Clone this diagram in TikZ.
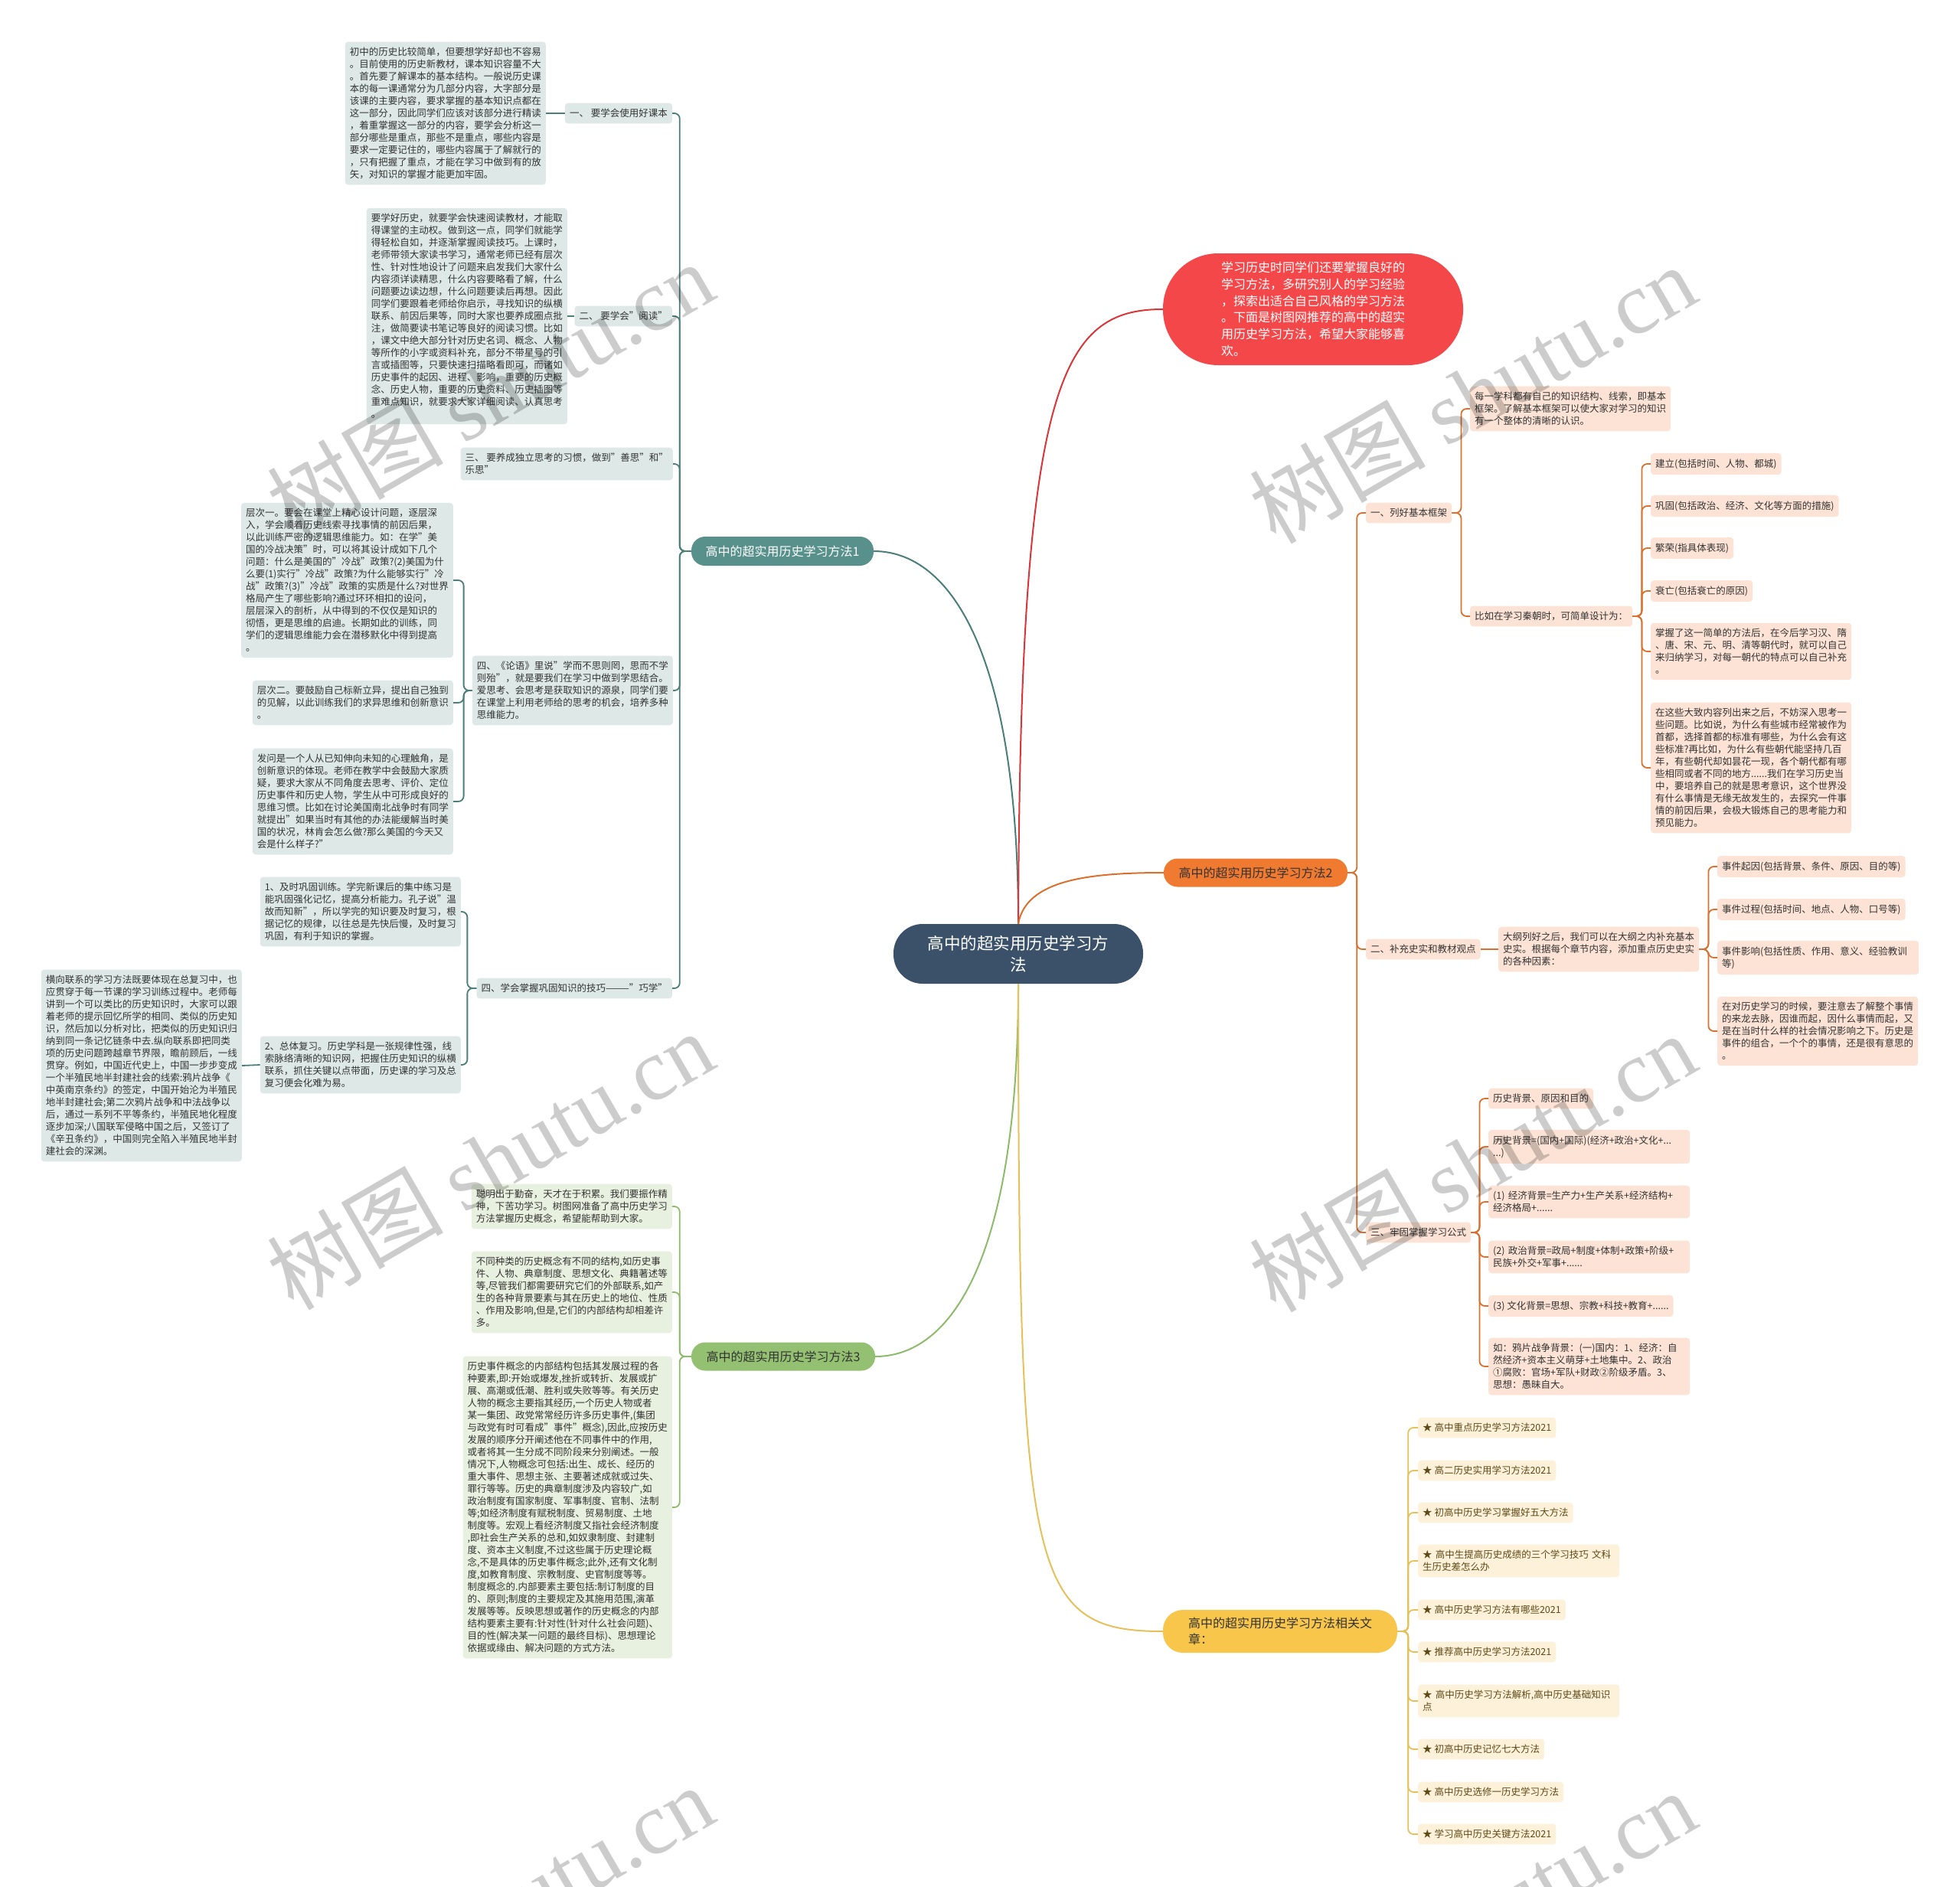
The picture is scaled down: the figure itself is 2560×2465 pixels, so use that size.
\documentclass[tikz,border=0pt]{standalone}
\usepackage{fontspec}
\setmainfont{Noto Sans CJK SC}
\newfontfamily\wmserif{Liberation Serif}
\definecolor{cBlue}{HTML}{3A5169}
\definecolor{cRed}{HTML}{F4474A}
\definecolor{cRedL}{HTML}{D9363A}
\definecolor{cTeal}{HTML}{58918C}
\definecolor{cTealD}{HTML}{4A7E7A}
\definecolor{cTealL}{HTML}{DDE8E7}
\definecolor{cOra}{HTML}{F07A30}
\definecolor{cOraD}{HTML}{D9712E}
\definecolor{cOraL}{HTML}{FCE3D5}
\definecolor{cGrn}{HTML}{93C171}
\definecolor{cGrnD}{HTML}{8DBB6B}
\definecolor{cGrnL}{HTML}{E8F1DF}
\definecolor{cYel}{HTML}{F7C64B}
\definecolor{cYelD}{HTML}{E5C15C}
\definecolor{cYelL}{HTML}{FDF1DA}
\definecolor{cTxt}{HTML}{333333}
\definecolor{cYelT}{HTML}{5E4A17}
\begin{document}
\begin{tikzpicture}[x=1pt,y=-1pt,
  leafbox/.style={rounded corners=4pt, inner xsep=6pt, inner ysep=7.5pt, align=left, text=cTxt, font=\fontsize{12.5}{16}\selectfont},
  tbox/.style={leafbox, fill=cTealL},
  obox/.style={leafbox, fill=cOraL},
  gbox/.style={leafbox, fill=cGrnL},
  ybox/.style={leafbox, fill=cYelL, text=cYelT},
  mainbox/.style={inner sep=0pt, align=center, font=\fontsize{16}{21}\selectfont},
  tline/.style={draw=cTealD, line width=1.8pt, rounded corners=7pt},
  oline/.style={draw=cOraD, line width=1.8pt, rounded corners=7pt},
  gline/.style={draw=cGrnD, line width=1.8pt, rounded corners=7pt},
  yline/.style={draw=cYelD, line width=1.8pt, rounded corners=7pt},
  branch/.style={line width=2pt},
]
\path[use as bounding box, fill=white] (0,0) rectangle (2560,2465);

% ---------- main nodes ----------
\node[mainbox, fill=cBlue, text=white, rounded corners=38pt, minimum width=326pt, minimum height=78pt, font=\fontsize{21.5}{28.5}\selectfont] (central) at (1330,1246) {高中的超实用历史学习方\\法};
\node[mainbox, fill=cRed, text=white, rounded corners=72pt, minimum width=392pt, minimum height=146pt, align=left, font=\fontsize{16}{21.7}\selectfont] (intro) at (1715,404) {学习历史时同学们还要掌握良好的\\学习方法，多研究别人的学习经验\\，探索出适合自己风格的学习方法\\。下面是树图网推荐的高中的超实\\用历史学习方法，希望大家能够喜\\欢。};
\node[mainbox, fill=cTeal, text=white, rounded corners=18pt, minimum width=238pt, minimum height=38pt] (m1) at (1022,720) {高中的超实用历史学习方法1};
\node[mainbox, fill=cOra, text=cTxt, rounded corners=18pt, minimum width=240pt, minimum height=37pt] (m2) at (1640,1140) {高中的超实用历史学习方法2};
\node[mainbox, fill=cGrn, text=cTxt, rounded corners=18pt, minimum width=240pt, minimum height=37pt] (m3) at (1023,1772) {高中的超实用历史学习方法3};
\node[mainbox, fill=cYel, text=cTxt, rounded corners=26pt, minimum width=306pt, minimum height=56pt, align=left] (rel) at (1672,2131) {高中的超实用历史学习方法相关文\\章：};

% ---------- method 1 ----------
\node[tbox, anchor=east] (c1) at (878,148) {一、 要学会使用好课本};
\node[tbox, anchor=east] (d1) at (713,148) {初中的历史比较简单，但要想学好却也不容易\\。目前使用的历史新教材，课本知识容量不大\\。首先要了解课本的基本结构。一般说历史课\\本的每一课通常分为几部分内容，大字部分是\\该课的主要内容，要求掌握的基本知识点都在\\这一部分，因此同学们应该对该部分进行精读\\，着重掌握这一部分的内容，要学会分析这一\\部分哪些是重点，那些不是重点，哪些内容是\\要求一定要记住的，哪些内容属于了解就行的\\，只有把握了重点，才能在学习中做到有的放\\矢，对知识的掌握才能更加牢固。};
\node[tbox, anchor=east] (c2) at (878,413) {二、 要学会"阅读"};
\node[tbox, anchor=east] (d2) at (741,413) {要学好历史，就要学会快速阅读教材，才能取\\得课堂的主动权。做到这一点，同学们就能学\\得轻松自如，并逐渐掌握阅读技巧。上课时，\\老师带领大家读书学习，通常老师已经有层次\\性、针对性地设计了问题来启发我们大家什么\\内容须详读精思，什么内容要略看了解，什么\\问题要边读边想，什么问题要读后再想。因此\\同学们要跟着老师给你启示，寻找知识的纵横\\联系、前因后果等，同时大家也要养成圈点批\\注，做简要读书笔记等良好的阅读习惯。比如\\，课文中绝大部分针对历史名词、概念、人物\\等所作的小字或资料补充，部分不带星号的引\\言或插图等，只要快速扫描略看即可，而诸如\\历史事件的起因、进程、影响，重要的历史概\\念、历史人物，重要的历史资料、历史插图等\\重难点知识，就要求大家详细阅读、认真思考\\。};
\node[tbox, anchor=east] (c3) at (879,606) {三、 要养成独立思考的习惯，做到"善思"和"\\乐思"};
\node[tbox, anchor=east] (c4) at (879,902) {四、《论语》里说"学而不思则罔，思而不学\\则殆"，就是要我们在学习中做到学思结合。\\爱思考、会思考是获取知识的源泉，同学们要\\在课堂上利用老师给的思考的机会，培养多种\\思维能力。};
\node[tbox, anchor=east] (l1) at (592,758) {层次一。要会在课堂上精心设计问题，逐层深\\入，学会顺着历史线索寻找事情的前因后果，\\以此训练严密的逻辑思维能力。如：在学"美\\国的冷战决策"时，可以将其设计成如下几个\\问题：什么是美国的"冷战"政策?(2)美国为什\\么要(1)实行"冷战"政策?为什么能够实行"冷\\战"政策?(3)"冷战"政策的实质是什么?对世界\\格局产生了哪些影响?通过环环相扣的设问，\\层层深入的剖析，从中得到的不仅仅是知识的\\彻悟，更是思维的启迪。长期如此的训练，同\\学们的逻辑思维能力会在潜移默化中得到提高\\。};
\node[tbox, anchor=east] (l2) at (592,918) {层次二。要鼓励自己标新立异，提出自己独到\\的见解，以此训练我们的求异思维和创新意识\\。};
\node[tbox, anchor=east] (l3) at (592,1047) {发问是一个人从已知伸向未知的心理触角，是\\创新意识的体现。老师在教学中会鼓励大家质\\疑，要求大家从不同角度去思考、评价、定位\\历史事件和历史人物，学生从中可形成良好的\\思维习惯。比如在讨论美国南北战争时有同学\\就提出"如果当时有其他的办法能缓解当时美\\国的状况，林肯会怎么做?那么美国的今天又\\会是什么样子?"};
\node[tbox, anchor=east] (c5) at (878,1291) {四、学会掌握巩固知识的技巧———"巧学"};
\node[tbox, anchor=east] (k1) at (602,1191) {1、及时巩固训练。学完新课后的集中练习是\\能巩固强化记忆，提高分析能力。孔子说"温\\故而知新"，所以学完的知识要及时复习，根\\据记忆的规律，以往总是先快后慢，及时复习\\巩固，有利于知识的掌握。};
\node[tbox, anchor=east] (k2) at (602,1391) {2、总体复习。历史学科是一张规律性强，线\\索脉络清晰的知识网，把握住历史知识的纵横\\联系，抓住关键以点带面，历史课的学习及总\\复习便会化难为易。};
\node[tbox, anchor=east] (k3) at (316,1392) {横向联系的学习方法既要体现在总复习中，也\\应贯穿于每一节课的学习训练过程中。老师每\\讲到一个可以类比的历史知识时，大家可以跟\\着老师的提示回忆所学的相同、类似的历史知\\识，然后加以分析对比，把类似的历史知识归\\纳到同一条记忆链条中去.纵向联系即把同类\\项的历史问题跨越章节界限，瞻前顾后，一线\\贯穿。例如，中国近代史上，中国一步步变成\\一个半殖民地半封建社会的线索:鸦片战争《\\中英南京条约》的签定，中国开始沦为半殖民\\地半封建社会;第二次鸦片战争和中法战争以\\后，通过一系列不平等条约，半殖民地化程度\\逐步加深;八国联军侵略中国之后，又签订了\\《辛丑条约》，中国则完全陷入半殖民地半封\\建社会的深渊。};

% ---------- method 3 ----------
\node[gbox, anchor=east] (g1) at (878,1576) {聪明出于勤奋，天才在于积累。我们要振作精\\神，下苦功学习。树图网准备了高中历史学习\\方法掌握历史概念，希望能帮助到大家。};
\node[gbox, anchor=east] (g2) at (878,1688) {不同种类的历史概念有不同的结构,如历史事\\件、人物、典章制度、思想文化、典籍著述等\\等,尽管我们都需要研究它们的外部联系,如产\\生的各种背景要素与其在历史上的地位、性质\\、作用及影响,但是,它们的内部结构却相差许\\多。};
\node[gbox, anchor=east] (g3) at (878,1969) {历史事件概念的内部结构包括其发展过程的各\\种要素,即:开始或爆发,挫折或转折、发展或扩\\展、高潮或低潮、胜利或失败等等。有关历史\\人物的概念主要指其经历,一个历史人物或者\\某一集团、政党常常经历许多历史事件,(集团\\与政党有时可看成"事件"概念),因此,应按历史\\发展的顺序分开阐述他在不同事件中的作用,\\或者将其一生分成不同阶段来分别阐述。一般\\情况下,人物概念可包括:出生、成长、经历的\\重大事件、思想主张、主要著述成就或过失、\\罪行等等。历史的典章制度涉及内容较广,如\\政治制度有国家制度、军事制度、官制、法制\\等;如经济制度有赋税制度、贸易制度、土地\\制度等。宏观上看经济制度又指社会经济制度\\,即社会生产关系的总和,如奴隶制度、封建制\\度、资本主义制度,不过这些属于历史理论概\\念,不是具体的历史事件概念;此外,还有文化制\\度,如教育制度、宗教制度、史官制度等等。\\制度概念的.内部要素主要包括:制订制度的目\\的、原则;制度的主要规定及其施用范围,演革\\发展等等。反映思想或著作的历史概念的内部\\结构要素主要有:针对性(针对什么社会问题)、\\目的性(解决某一问题的最终目标)、思想理论\\依据或缘由、解决问题的方式方法。};

% ---------- method 2 ----------
\node[obox, anchor=west] (s1) at (1784,670) {一、列好基本框架};
\node[obox, anchor=west] (s1a) at (1920,534) {每一学科都有自己的知识结构、线索，即基本\\框架。了解基本框架可以使大家对学习的知识\\有一个整体的清晰的认识。};
\node[obox, anchor=west] (s1b) at (1920,805) {比如在学习秦朝时，可简单设计为：};
\node[obox, anchor=west] (t1) at (2156,606) {建立(包括时间、人物、都城)};
\node[obox, anchor=west] (t2) at (2156,661) {巩固(包括政治、经济、文化等方面的措施)};
\node[obox, anchor=west] (t3) at (2156,716) {繁荣(指具体表现)};
\node[obox, anchor=west] (t4) at (2156,772) {衰亡(包括衰亡的原因)};
\node[obox, anchor=west] (t5) at (2156,851) {掌握了这一简单的方法后，在今后学习汉、隋\\、唐、宋、元、明、清等朝代时，就可以自己\\来归纳学习，对每一朝代的特点可以自己补充\\。};
\node[obox, anchor=west] (t6) at (2156,1003) {在这些大致内容列出来之后，不妨深入思考一\\些问题。比如说，为什么有些城市经常被作为\\首都，选择首都的标准有哪些，为什么会有这\\些标准?再比如，为什么有些朝代能坚持几百\\年，有些朝代却如昙花一现，各个朝代都有哪\\些相同或者不同的地方......我们在学习历史当\\中，要培养自己的就是思考意识，这个世界没\\有什么事情是无缘无故发生的，去探究一件事\\情的前因后果，会极大锻炼自己的思考能力和\\预见能力。};
\node[obox, anchor=west] (s2) at (1784,1240) {二、补充史实和教材观点};
\node[obox, anchor=west] (s2a) at (1957,1240) {大纲列好之后，我们可以在大纲之内补充基本\\史实。根据每个章节内容，添加重点历史史实\\的各种因素：};
\node[obox, anchor=west] (u1) at (2243,1132) {事件起因(包括背景、条件、原因、目的等)};
\node[obox, anchor=west] (u2) at (2243,1188) {事件过程(包括时间、地点、人物、口号等)};
\node[obox, anchor=west, text width=251pt] (u3) at (2243,1251) {事件影响(包括性质、作用、意义、经验教训\\等)};
\node[obox, anchor=west] (u4) at (2243,1347) {在对历史学习的时候，要注意去了解整个事情\\的来龙去脉，因谁而起，因什么事情而起，又\\是在当时什么样的社会情况影响之下。历史是\\事件的组合，一个个的事情，还是很有意思的\\。};
\node[obox, anchor=west] (s3) at (1784,1610) {三、牢固掌握学习公式};
\node[obox, anchor=west] (v1) at (1944,1435) {历史背景、原因和目的};
\node[obox, anchor=west, text width=251pt] (v2) at (1944,1498) {历史背景=(国内+国际)(经济+政治+文化+...\\...)};
\node[obox, anchor=west, text width=251pt] (v3) at (1944,1570) {(1) 经济背景=生产力+生产关系+经济结构+\\经济格局+......};
\node[obox, anchor=west, text width=251pt] (v4) at (1944,1642) {(2) 政治背景=政局+制度+体制+政策+阶级+\\民族+外交+军事+......};
\node[obox, anchor=west] (v5) at (1944,1706) {(3) 文化背景=思想、宗教+科技+教育+......};
\node[obox, anchor=west, text width=251pt] (v6) at (1944,1785) {如：鸦片战争背景：(一)国内：1、经济：自\\然经济+资本主义萌芽+土地集中。2、政治\\①腐败：官场+军队+财政②阶级矛盾。3、\\思想：愚昧自大。};

% ---------- related ----------
\node[ybox, anchor=west] (r1) at (1852,1865) {★ 高中重点历史学习方法2021};
\node[ybox, anchor=west] (r2) at (1852,1921) {★ 高二历史实用学习方法2021};
\node[ybox, anchor=west] (r3) at (1852,1976) {★ 初高中历史学习掌握好五大方法};
\node[ybox, anchor=west, text width=251pt] (r4) at (1852,2039) {★ 高中生提高历史成绩的三个学习技巧 文科\\生历史差怎么办};
\node[ybox, anchor=west] (r5) at (1852,2103) {★ 高中历史学习方法有哪些2021};
\node[ybox, anchor=west] (r6) at (1852,2158) {★ 推荐高中历史学习方法2021};
\node[ybox, anchor=west, text width=251pt] (r7) at (1852,2222) {★ 高中历史学习方法解析,高中历史基础知识\\点};
\node[ybox, anchor=west] (r8) at (1852,2285) {★ 初高中历史记忆七大方法};
\node[ybox, anchor=west] (r9) at (1852,2341) {★ 高中历史选修一历史学习方法};
\node[ybox, anchor=west] (r10) at (1852,2396) {★ 学习高中历史关键方法2021};

% ---------- main branches ----------
\draw[cTealD, branch] (central.north) .. controls (1330,850) and (1240,720) .. (m1.east);
\draw[cRedL, branch] (central.north) .. controls (1332,500) and (1385,404) .. (intro.west);
\draw[cOraD, branch] (central.north) .. controls (1340,1150) and (1420,1140) .. (m2.west);
\draw[cGrnD, branch] (central.south) .. controls (1330,1650) and (1240,1772) .. (m3.east);
\draw[cYelD, branch] (central.south) .. controls (1330,2060) and (1345,2131) .. (rel.west);

% ---------- sub connectors ----------
\foreach \c in {c1,c2,c3,c4,c5} \draw[tline] (m1.west) -- ++(-15,0) |- (\c.east);
\draw[tline] (c1.west) -- (d1.east);
\draw[tline] (c2.west) -- (d2.east);
\foreach \c in {l1,l2,l3} \draw[tline] (c4.west) -- ++(-11,0) |- (\c.east);
\foreach \c in {k1,k2} \draw[tline] (c5.west) -- ++(-12,0) |- (\c.east);
\draw[tline] (k2.west) -- (k3.east);

\foreach \c in {g1,g2,g3} \draw[gline] (m3.west) -- ++(-15,0) |- (\c.east);

\foreach \c in {s1,s2,s3} \draw[oline] (m2.east) -- ++(12,0) |- (\c.west);
\foreach \c in {s1a,s1b} \draw[oline] (s1.east) -- ++(12,0) |- (\c.west);
\foreach \c in {t1,t2,t3,t4,t5,t6} \draw[oline] (s1b.east) -- ++(12,0) |- (\c.west);
\draw[oline] (s2.east) -- (s2a.west);
\foreach \c in {u1,u2,u3,u4} \draw[oline] (s2a.east) -- ++(12,0) |- (\c.west);
\foreach \c in {v1,v2,v3,v4,v5,v6} \draw[oline] (s3.east) -- ++(11,0) |- (\c.west);

\foreach \i in {1,...,10} \draw[yline] (rel.east) -- ++(14,0) |- (r\i.west);

% ---------- watermarks ----------
\begin{scope}
\clip (0,0) rectangle (2560,2465);
\foreach \x/\y/\n in {640/510/1, 1923/514/2, 640/1515/3, 1923/1518/4, 640/2500/5, 1923/2507/6}
  \node[rotate=30, text=black, text opacity=0.2, font=\fontsize{115}{115}\selectfont] (wm\n) at (\x,\y) {树图 {\wmserif shutu.cn}};
\end{scope}
\end{tikzpicture}
\end{document}
